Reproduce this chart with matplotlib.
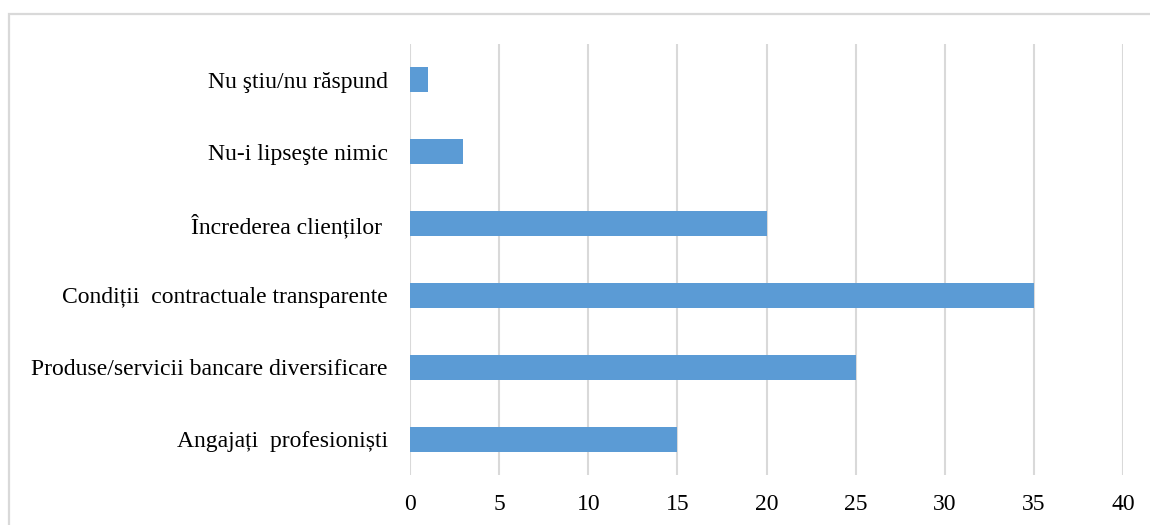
import matplotlib
matplotlib.use("Agg")
import matplotlib.pyplot as plt
from matplotlib.patches import Rectangle

categories = [
    "Angajați  profesioniști",
    "Produse/servicii bancare diversificare",
    "Condiții  contractuale transparente",
    "Încrederea clienților ",
    "Nu-i lipseşte nimic",
    "Nu ştiu/nu răspund",
]
values = [15, 25, 35, 20, 3, 1]
x_ticks = [0, 5, 10, 15, 20, 25, 30, 35, 40]

plt.rcParams["font.family"] = ["Liberation Serif", "DejaVu Serif"]

fig = plt.figure(figsize=(11.5, 5.25), dpi=100)
fig.patch.set_facecolor("white")

# light outer frame of the chart area
fig.patches.append(Rectangle((9 / 1150, -0.05), 1.2, 1 - 14 / 525 + 0.05,
                             transform=fig.transFigure, fill=False,
                             edgecolor="#d9d9d9", linewidth=1.6))

ax = fig.add_axes([410 / 1150, 1 - 475 / 525, (1123 - 410) / 1150, (475 - 44) / 525])
ypos = range(len(categories))
ax.barh(ypos, values, height=0.35, color="#5b9bd5", zorder=3)

ax.set_xlim(0, 40)
ax.set_ylim(-0.5, len(categories) - 0.5)
ax.set_xticks(x_ticks)
ax.set_xticklabels([str(t) for t in x_ticks])
ax.set_yticks(list(ypos))
ax.set_yticklabels(categories)
ax.tick_params(axis="both", length=0, labelsize=17, colors="#000000")
ax.tick_params(axis="x", pad=14)
ax.tick_params(axis="y", pad=16)

ax.grid(axis="x", color="#d9d9d9", linewidth=1.5, zorder=0)
ax.grid(axis="y", visible=False)
for s in ax.spines.values():
    s.set_visible(False)

fig.savefig("out.png", dpi=100, facecolor="white")
